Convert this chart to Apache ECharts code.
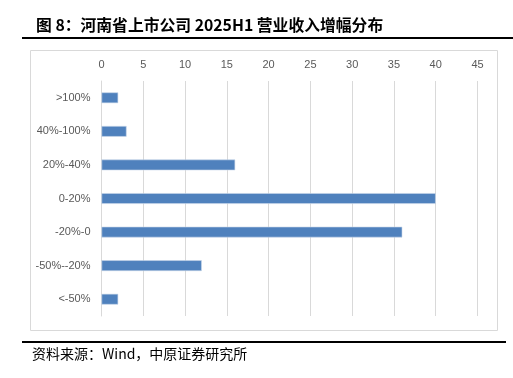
<!DOCTYPE html>
<html>
<head>
<meta charset="utf-8">
<script src="https://cdn.jsdelivr.net/npm/echarts@6/dist/echarts.min.js"></script>
<style>
  html, body { margin: 0; padding: 0; background: #fff; }
  #chart { width: 513px; height: 378px; }
</style>
</head>
<body>
<div id="chart"></div>
<script>
// 数据
var categories = ['>100%', '40%-100%', '20%-40%', '0-20%', '-20%-0', '-50%--20%', '<-50%'];
var counts = [2, 3, 16, 40, 36, 12, 2];
var tickMax = 45;
var tickStep = 5;

var chart = echarts.init(document.getElementById('chart'), null, {renderer: 'canvas'});

var option = {
    animation: false,
    title: {
        text: '图 8：河南省上市公司 2025H1 营业收入增幅分布',
        left: 31,
        top: 12,
        textStyle: {
            fontFamily: '"Noto Sans CJK SC", "Liberation Sans", sans-serif',
            fontWeight: 'bold',
            fontSize: 15.8,
            color: '#000'
        }
    },
    grid: {left: 101.5, right: 35.5, top: 81, bottom: 62, containLabel: false},
    xAxis: {
        type: 'value',
        position: 'top',
        min: 0,
        max: tickMax,
        interval: tickStep,
        axisLine: {show: false},
        axisTick: {show: false},
        axisLabel: {color: '#595959', fontSize: 11, margin: 11, fontFamily: '"Liberation Sans", sans-serif'},
        splitLine: {lineStyle: {color: '#d9d9d9', width: 1}}
    },
    yAxis: {
        type: 'category',
        data: categories,
        inverse: true,
        axisLine: {lineStyle: {color: '#d9d9d9'}},
        axisTick: {show: false},
        axisLabel: {color: '#595959', fontSize: 11, margin: 11, fontFamily: '"Liberation Sans", sans-serif'}
    },
    series: [{
        type: 'bar',
        data: counts,
        barWidth: '32%',
        itemStyle: {color: '#4f81bd', borderColor: '#c9d7ea', borderWidth: 0.6}
    }],
    graphic: [
        {type: 'line', shape: {x1: 22, y1: 38, x2: 513, y2: 38}, style: {stroke: '#000', lineWidth: 2}},
        {type: 'rect', shape: {x: 30.5, y: 50.5, width: 467, height: 280}, style: {fill: 'none', stroke: '#d9d9d9', lineWidth: 1}},
        {type: 'line', shape: {x1: 22, y1: 342, x2: 506, y2: 342}, style: {stroke: '#000', lineWidth: 2}},
        {type: 'text', left: 32, top: 347, style: {
            text: '资料来源：Wind，中原证券研究所',
            font: '14px "Noto Sans CJK SC", sans-serif',
            fill: '#000'
        }}
    ]
};

chart.setOption(option);
</script>
</body>
</html>
